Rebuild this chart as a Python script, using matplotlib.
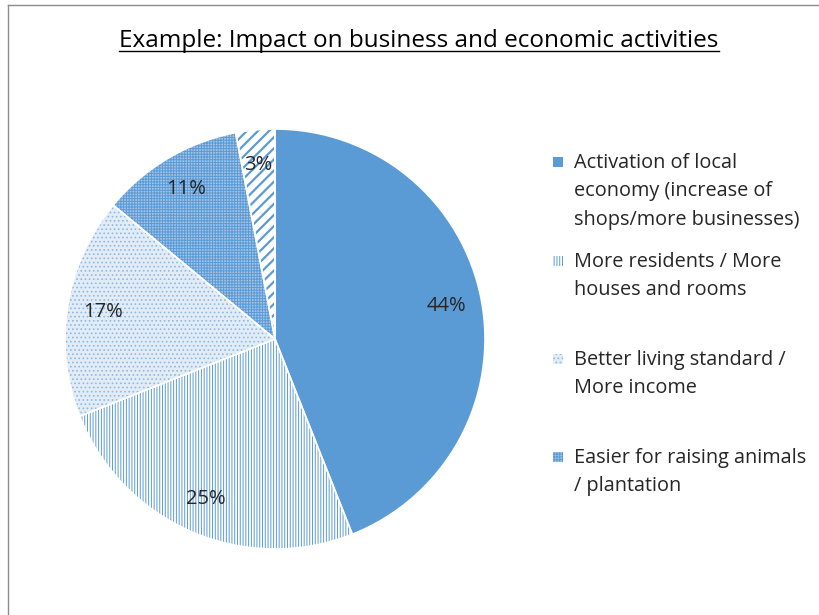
import matplotlib
matplotlib.use("Agg")
import matplotlib.pyplot as plt
from matplotlib.patches import Rectangle
from matplotlib.lines import Line2D

plt.rcParams['font.family'] = ['Open Sans', 'DejaVu Sans']

# data
categories = [
    "Activation of local\neconomy (increase of\nshops/more businesses)",
    "More residents / More\nhouses and rooms",
    "Better living standard /\nMore income",
    "Easier for raising animals\n/ plantation",
    "Other",
]
shares = [44, 25, 17, 11, 3]

face_colors = ['#5b9bd5', 'white', '#e2ecf7', '#a3c3e8', 'white']
hatch_colors = ['#5b9bd5', '#5b9bd5', '#8fb8e2', '#5b9bd5', '#5b9bd5']
hatches = [None, '||||||', '....', '++++++', '///']

fig = plt.figure(figsize=(8.2, 6.15), dpi=100)
ax = fig.add_axes([65 / 820, 66 / 615, 420 / 820, 420 / 615])

wedges, texts, autotexts = ax.pie(
    shares, startangle=90, counterclock=False, radius=1,
    autopct=lambda p: '%.0f%%' % p, pctdistance=0.83,
    textprops={'fontsize': 14.5, 'color': '#262626'})
for w, fc, hc, h in zip(wedges, face_colors, hatch_colors, hatches):
    w.set_facecolor(fc)
    w.set_edgecolor(hc)
    w.set_linewidth(0)
    w.set_hatch(h)
    if hasattr(w, 'set_hatch_linewidth'):
        w.set_hatch_linewidth(1.6 if h == '///' else 0.7)

# white separators between slices
seps, _ = ax.pie(shares, startangle=90, counterclock=False, radius=1,
                 wedgeprops={'facecolor': 'none', 'edgecolor': 'white', 'linewidth': 1.2})
for t in autotexts:
    t.set_zorder(5)
ax.set_xlim(-1, 1)
ax.set_ylim(-1, 1)

# legend (first four categories shown)
leg_y = [162, 261, 359, 457]
for w, label, y in zip(wedges[:4], categories[:4], leg_y):
    r = Rectangle((553 / 820, 1 - (y + 5) / 615), 10 / 820, 10 / 615,
                  transform=fig.transFigure, facecolor=w.get_facecolor(),
                  edgecolor=w.get_edgecolor(), hatch=w.get_hatch(), linewidth=0)
    if hasattr(r, 'set_hatch_linewidth'):
        r.set_hatch_linewidth(0.7)
    fig.patches.append(r)
    fig.text(574 / 820, 1 - (y - 9) / 615, label, fontsize=14.3, va='top', ha='left',
             color='#262626', linespacing=1.55)

# title with underline
title = fig.text(419 / 820, 1 - 41 / 615, "Example: Impact on business and economic activities",
                 fontsize=17.5, ha='center', va='center', color='black')
fig.canvas.draw()
bb = title.get_window_extent().transformed(fig.transFigure.inverted())
fig.add_artist(Line2D([bb.x0, bb.x1], [bb.y0 + 0.004, bb.y0 + 0.004],
                      transform=fig.transFigure, color='black', linewidth=1))

# frame lines on top and left
fig.add_artist(Line2D([8 / 820, 1], [1 - 5 / 615, 1 - 5 / 615],
                      transform=fig.transFigure, color='#8c8c8c', linewidth=1))
fig.add_artist(Line2D([8 / 820, 8 / 820], [0, 1 - 5 / 615],
                      transform=fig.transFigure, color='#8c8c8c', linewidth=1))

fig.savefig('out.png', dpi=100)
